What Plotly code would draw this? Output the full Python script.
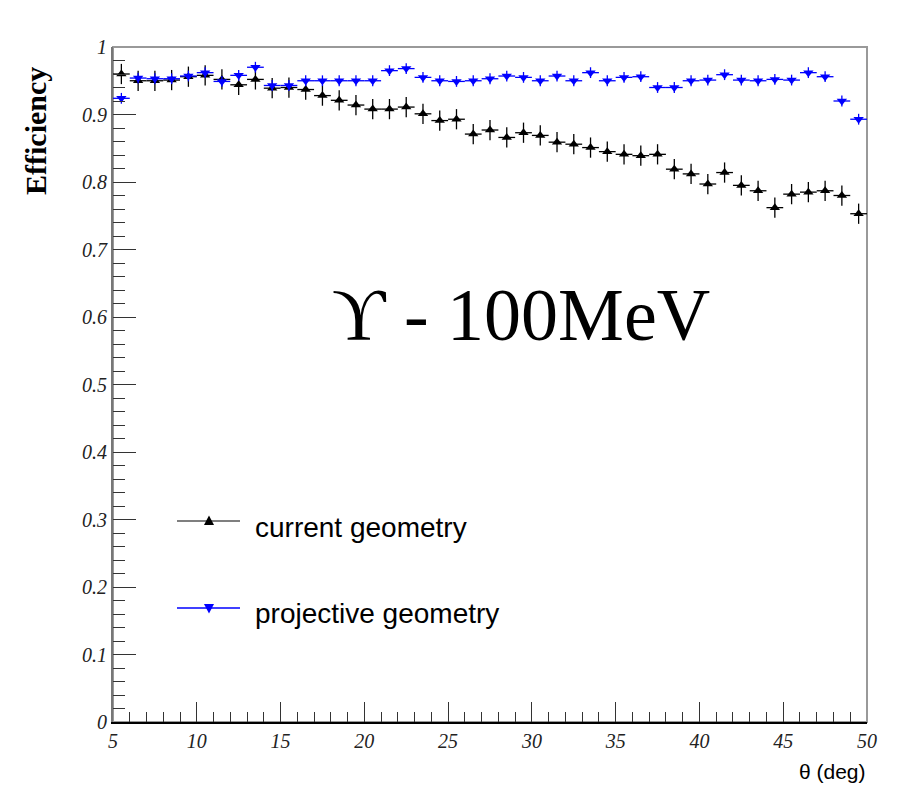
import plotly.graph_objects as go

theta = [5.5 + i for i in range(45)]
current_eff = [0.960, 0.950, 0.950, 0.951, 0.956, 0.958, 0.952, 0.944, 0.952, 0.939,
               0.940, 0.937, 0.928, 0.921, 0.914, 0.908, 0.908, 0.911, 0.901, 0.891,
               0.893, 0.871, 0.877, 0.866, 0.873, 0.869, 0.859, 0.856, 0.851, 0.845,
               0.841, 0.839, 0.841, 0.819, 0.812, 0.797, 0.814, 0.795, 0.787, 0.762,
               0.782, 0.785, 0.787, 0.780, 0.753]
projective_eff = [0.924, 0.954, 0.953, 0.953, 0.957, 0.962, 0.949, 0.958, 0.970, 0.943,
                  0.943, 0.950, 0.950, 0.950, 0.950, 0.950, 0.965, 0.968, 0.955, 0.950,
                  0.949, 0.950, 0.953, 0.957, 0.955, 0.950, 0.957, 0.950, 0.962, 0.950,
                  0.955, 0.956, 0.940, 0.940, 0.950, 0.951, 0.959, 0.951, 0.950, 0.952,
                  0.951, 0.962, 0.956, 0.920, 0.893]
current_err = 0.015
projective_err = 0.008
bin_half_width = 0.5

W, H = 918, 791
L, R, T, B = 113, 867, 47, 722

def px(x):
    return (x - L) / (R - L)

def py(y):
    return (B - y) / (B - T)

def tri_path(cx, cy, up=True, s=5):
    if up:
        pts = [(cx - s, cy + s * 0.8), (cx + s, cy + s * 0.8), (cx, cy - s * 1.1)]
    else:
        pts = [(cx - s, cy - s * 0.8), (cx + s, cy - s * 0.8), (cx, cy + s * 1.1)]
    return "M " + " L ".join(f"{px(a):.5f},{py(b):.5f}" for a, b in pts) + " Z"

fig = go.Figure()
fig.add_trace(go.Scatter(
    x=theta, y=current_eff, mode="markers", name="current geometry",
    marker=dict(symbol="triangle-up", size=9, color="black"),
    error_y=dict(type="constant", value=current_err, color="black", thickness=1.3, width=0),
    error_x=dict(type="constant", value=bin_half_width, color="black", thickness=1.3, width=0),
    showlegend=False,
))
fig.add_trace(go.Scatter(
    x=theta, y=projective_eff, mode="markers", name="projective geometry",
    marker=dict(symbol="triangle-down", size=9, color="#0000ff"),
    error_y=dict(type="constant", value=projective_err, color="#0000ff", thickness=1.3, width=0),
    error_x=dict(type="constant", value=bin_half_width, color="#0000ff", thickness=1.3, width=0),
    showlegend=False,
))

tickfont = dict(family="Liberation Serif", size=20, color="#222", style="italic")

fig.update_layout(
    width=W, height=H,
    margin=dict(l=L, r=W - R, t=T, b=H - B),
    paper_bgcolor="white", plot_bgcolor="white",
    xaxis=dict(range=[5, 50], dtick=5, tick0=5, ticks="inside", ticklen=20, tickwidth=1.3,
               tickcolor="#333", showgrid=False, zeroline=False, showline=True,
               linecolor="black", linewidth=2, tickfont=tickfont,
               minor=dict(dtick=1, ticks="inside", ticklen=10, tickcolor="#333", tickwidth=1, showgrid=False)),
    yaxis=dict(range=[0, 1], dtick=0.1, tick0=0, ticks="inside", ticklen=23, tickwidth=1.3,
               tickcolor="#333", showgrid=False, zeroline=False, showline=True,
               linecolor="#777", linewidth=2, tickfont=tickfont,
               minor=dict(dtick=0.02, ticks="inside", ticklen=12, tickcolor="#333", tickwidth=1, showgrid=False)),
    shapes=[
        dict(type="rect", xref="paper", yref="paper", x0=0, x1=1, y0=0, y1=1,
             line=dict(color="#999", width=2), layer="below"),
        dict(type="line", xref="paper", yref="paper", x0=px(177), x1=px(240), y0=py(521), y1=py(521),
             line=dict(color="black", width=1.2)),
        dict(type="line", xref="paper", yref="paper", x0=px(177), x1=px(240), y0=py(608), y1=py(608),
             line=dict(color="#0000ff", width=1.5)),
        dict(type="path", xref="paper", yref="paper", path=tri_path(209, 521, True),
             fillcolor="black", line=dict(width=0)),
        dict(type="path", xref="paper", yref="paper", path=tri_path(209, 608, False),
             fillcolor="#0000ff", line=dict(width=0)),
    ],
    annotations=[
        dict(text="current geometry", xref="paper", yref="paper", x=px(253), y=py(527),
             xanchor="left", yanchor="middle", showarrow=False,
             font=dict(family="Liberation Sans", size=28, color="black")),
        dict(text="projective geometry", xref="paper", yref="paper", x=px(253), y=py(613),
             xanchor="left", yanchor="middle", showarrow=False,
             font=dict(family="Liberation Sans", size=28, color="black")),
        dict(text="ϒ - 100MeV", xref="paper", yref="paper", x=px(521), y=py(315),
             xanchor="center", yanchor="middle",
             showarrow=False, font=dict(family="Liberation Serif", size=74, color="black")),
        dict(text="<b>Efficiency</b>", xref="paper", yref="paper", x=px(35), y=py(131),
             xanchor="center", yanchor="middle", textangle=-90, showarrow=False,
             font=dict(family="Liberation Serif", size=30, color="black")),
        dict(text="θ (deg)", xref="paper", yref="paper", x=px(868), y=py(758),
             xanchor="right", yanchor="top", showarrow=False,
             font=dict(family="Liberation Sans", size=21, color="black")),
    ],
)

fig.write_html("out.html")
